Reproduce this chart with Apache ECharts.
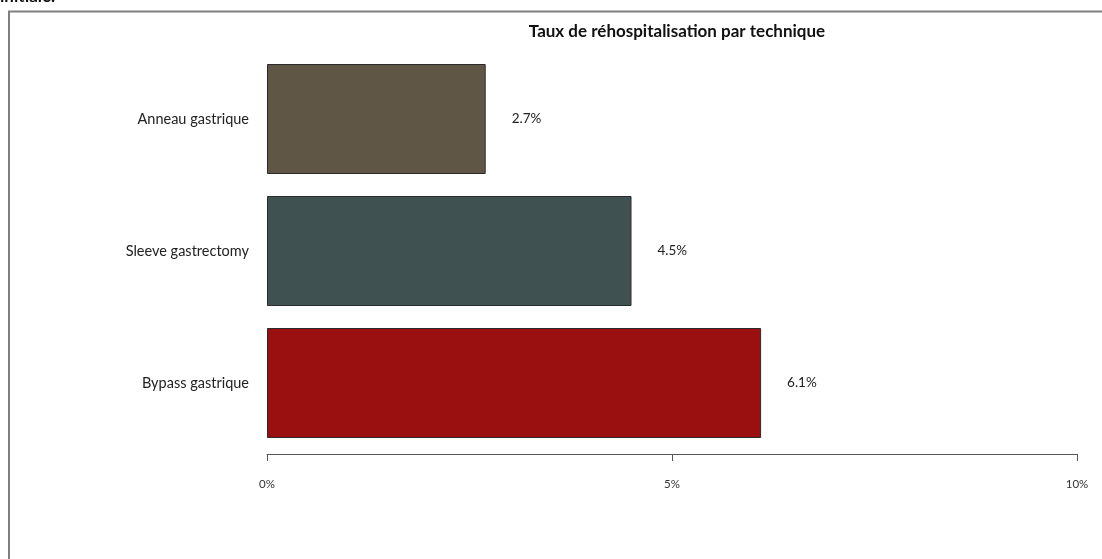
<!DOCTYPE html>
<html>
<head>
<meta charset="utf-8">
<style>
html,body{margin:0;padding:0;background:#fff;}
#chart{width:1102px;height:559px;}
</style>
<script src="https://cdn.jsdelivr.net/npm/echarts@6/dist/echarts.min.js"></script>
</head>
<body>
<div id="chart"></div>
<script>
// Data
const categories = ['Bypass gastrique', 'Sleeve gastrectomy', 'Anneau gastrique'];
const rates = [6.1, 4.5, 2.7];
const barColors = ['#9a1010', '#3f5251', '#5f5646'];
const xTicks = [0, 5, 10];
const titleText = 'Taux de réhospitalisation par technique';
const captionText = 'initiale.';

const chart = echarts.init(document.getElementById('chart'));
const FONT = 'Lato, "Liberation Sans", sans-serif';

chart.setOption({
  animation: false,
  backgroundColor: '#ffffff',
  title: {
    text: titleText,
    left: 672,
    textAlign: 'center',
    top: 18,
    textStyle: { fontFamily: FONT, fontSize: 17, fontWeight: 'bold', color: '#111' }
  },
  graphic: [
    {
      type: 'rect',
      shape: { x: 9, y: 11.5, width: 1200, height: 700 },
      style: { fill: 'none', stroke: '#7f7f7f', lineWidth: 2 },
      silent: true
    },
    {
      type: 'text',
      left: 0,
      top: -12,
      style: { text: captionText, font: 'bold 17px ' + FONT, fill: '#111' },
      silent: true
    }
  ],
  grid: { left: 267, right: 25, top: 53, height: 396, containLabel: false },
  xAxis: {
    type: 'value',
    min: 0,
    max: 10,
    interval: 5,
    offset: 5,
    axisLine: { show: true, lineStyle: { color: '#555', width: 1 } },
    axisTick: { show: true, inside: false, length: 7, lineStyle: { color: '#555' } },
    axisLabel: {
      margin: 24,
      fontFamily: FONT,
      fontSize: 11.5,
      color: '#333',
      formatter: v => (xTicks.indexOf(v) >= 0 ? v + '%' : '')
    },
    splitLine: { show: false }
  },
  yAxis: {
    type: 'category',
    data: categories,
    axisLine: { show: false },
    axisTick: { show: false },
    axisLabel: { margin: 18, fontFamily: FONT, fontSize: 14.5, color: '#222' }
  },
  series: [{
    type: 'bar',
    barWidth: 110,
    data: rates.map((v, i) => ({
      value: v,
      itemStyle: { color: barColors[i], borderColor: '#2a2a2a', borderWidth: 1 }
    })),
    label: {
      show: true,
      position: 'right',
      distance: 26,
      fontFamily: FONT,
      fontSize: 13.5,
      color: '#222',
      formatter: p => p.value.toFixed(1) + '%'
    }
  }]
});
</script>
</body>
</html>
